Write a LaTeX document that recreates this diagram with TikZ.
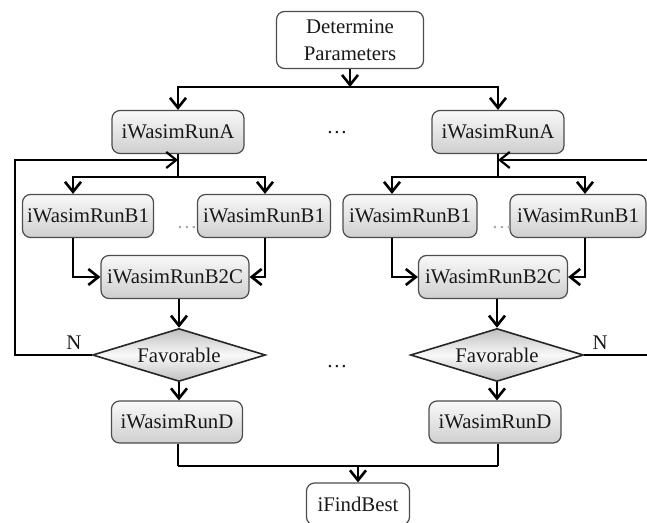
\documentclass[tikz,border=0pt]{standalone}
\usepackage{fontspec}
\setmainfont{Liberation Serif}
\newfontfamily\flowfont{Liberation Serif}
\usetikzlibrary{arrows.meta,shapes.geometric}

\begin{document}
\begin{tikzpicture}[
  x=0.5pt, y=-0.5pt,
  every node/.style={font=\flowfont\fontsize{10.4}{13.5}\selectfont, text=black!90},
  startbox/.style={rectangle, rounded corners=4pt, draw=gray!60!black, fill=white, align=center, line width=0.6pt, inner sep=1pt},
  runbox/.style={rectangle, rounded corners=4pt, draw=gray!60!black, line width=0.6pt, top color=gray!5, bottom color=gray!38, minimum height=21.5pt, inner sep=2pt},
  testbox/.style={diamond, aspect=3.3, draw=black!85, line width=0.8pt, top color=gray!50, bottom color=gray!50, middle color=gray!5, minimum width=86.5pt, minimum height=26.5pt, inner sep=0pt},
  flow/.style={draw, -{Straight Barb[length=5pt,width=8pt]}, line width=1.3pt},
  link/.style={draw, line width=1.3pt},
  backline/.style={draw, -{Straight Barb[length=5pt,width=8pt]}, line width=1.1pt}
]
\clip (0,0) rectangle (647,523);

% start
\node[startbox, minimum width=73.5pt, minimum height=28.5pt] (det) at (350,40) {Determine\\Parameters};
\coordinate (s) at (350,87);

% left branch
\node[runbox, minimum width=66pt] (a1) at (178,132) {iWasimRunA};
\node[runbox, minimum width=65.5pt] (b11) at (88,216) {iWasimRunB1};
\node[runbox, minimum width=66.5pt] (b12) at (264,216) {iWasimRunB1};
\node[runbox, minimum width=74pt] (c1) at (175,277) {iWasimRunB2C};
\node[testbox] (f1) at (179,355) {Favorable};
\node[runbox, minimum width=65.5pt, minimum height=21pt] (d1) at (177,422) {iWasimRunD};

% right branch
\node[runbox, minimum width=66pt] (a2) at (498,132) {iWasimRunA};
\node[runbox, minimum width=67pt] (b21) at (410,216) {iWasimRunB1};
\node[runbox, minimum width=68pt] (b22) at (578,216) {iWasimRunB1};
\node[runbox, minimum width=74.5pt] (c2) at (493,277) {iWasimRunB2C};
\node[testbox] (f2) at (497,355) {Favorable};
\node[runbox, minimum width=66pt, minimum height=21pt] (d2) at (495,422) {iWasimRunD};

% end
\node[startbox, minimum width=51.5pt, minimum height=21pt] (best) at (358,504) {iFindBest};
\coordinate (m) at (358,466);

% dots
\node (dA) at (337,133) {\dots};
\node[text=gray!70] (dB1) at (187,228) {\dots};
\node[text=gray!70] (dB2) at (502,228) {\dots};
\node (dF) at (337,367) {\dots};
\node (n1) at (74,343) {N};
\node (n2) at (600,343) {N};

% split to runs
\draw[flow] (det) -- (s);
\draw[flow] (s) -| (a1);
\draw[flow] (s) -| (a2);

% sub-branches
\coordinate (j1) at (178,177);
\coordinate (k11) at (73,177);
\coordinate (k12) at (265,177);
\coordinate (j2) at (498,177);
\coordinate (k21) at (392,177);
\coordinate (k22) at (585,177);
\draw[link] (a1) -- (j1);
\draw[flow] (j1) -- (k11) -- (k11 |- b11.north);
\draw[flow] (j1) -- (k12) -- (k12 |- b12.north);
\draw[link] (a2) -- (j2);
\draw[flow] (j2) -- (k21) -- (k21 |- b21.north);
\draw[flow] (j2) -- (k22) -- (k22 |- b22.north);

\draw[flow] (k11 |- b11.south) |- (c1);
\draw[flow] (k12 |- b12.south) |- (c1);
\draw[flow] (k21 |- b21.south) |- (c2);
\draw[flow] (k22 |- b22.south) |- (c2);

\draw[flow] (c1.south -| f1) -- (f1);
\draw[flow] (c2.south -| f2) -- (f2);
\draw[flow] (f1) -- (f1.south |- d1.north);
\draw[flow] (f2) -- (f2.south |- d2.north);

% loops back on N
\coordinate (r1) at (15,160);
\coordinate (r2) at (656,160);
\draw[backline] (f1.west) -| (r1) -- (r1 -| a1);
\draw[backline] (f2.east) -| (r2) -- (r2 -| a2);

% collect
\draw[link] (d1.south -| a1) -- (a1 |- m);
\draw[link] (d2.south -| a2) -- (a2 |- m);
\draw[draw, line width=0.9pt] (a1 |- m) -- (a2 |- m);
\draw[flow] (m) -- (best);
\end{tikzpicture}
\end{document}
